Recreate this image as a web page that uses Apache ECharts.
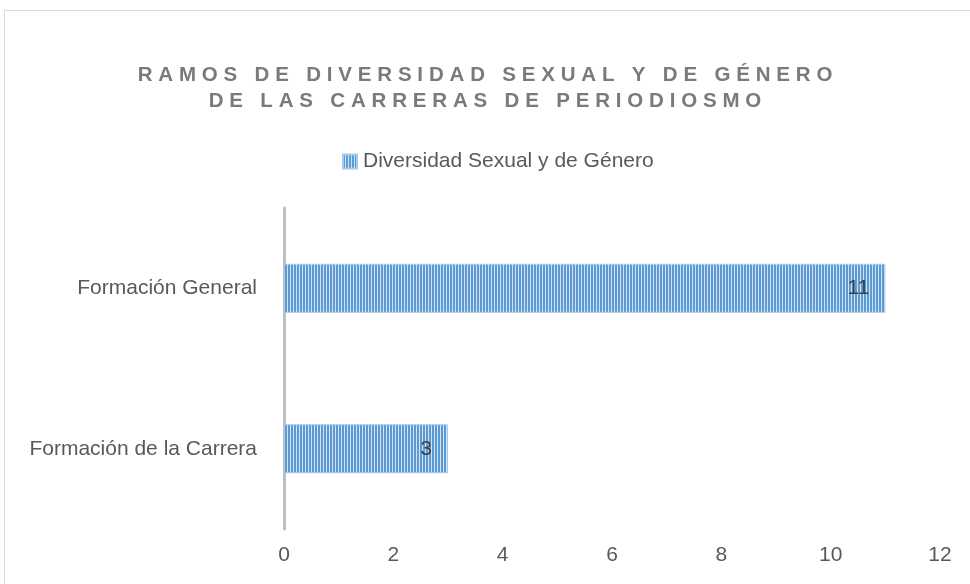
<!DOCTYPE html>
<html>
<head>
<meta charset="utf-8">
<title>Ramos de diversidad sexual y de género</title>
<script src="https://cdn.jsdelivr.net/npm/echarts@6/dist/echarts.min.js"></script>
<style>
  html, body { margin: 0; padding: 0; background: #fff; }
  #chart { width: 970px; height: 584px; }
</style>
</head>
<body>
<div id="chart"></div>
<script>
// datos del gráfico
const titleLines = ['RAMOS DE DIVERSIDAD SEXUAL Y DE GÉNERO', 'DE LAS CARRERAS DE PERIODIOSMO'];
const seriesName = 'Diversidad Sexual y de Género';
const categories = ['Formación General', 'Formación de la Carrera'];
const values = [11, 3];
const xTicks = { min: 0, max: 12, interval: 2 };

// espaciado entre letras del título (como en Excel)
function spaced(str) {
  return str.split('').join('\u2009\u200A');
}

// patrón de rayas verticales para las barras
function stripePattern() {
  const c = document.createElement('canvas');
  c.width = 3;
  c.height = 1;
  const ctx = c.getContext('2d');
  ctx.fillStyle = '#5B9BD5';
  ctx.fillRect(0, 0, 2, 1);
  ctx.fillStyle = '#D3E3F4';
  ctx.fillRect(2, 0, 1, 1);
  return { image: c, repeat: 'repeat' };
}

const chart = echarts.init(document.getElementById('chart'));
const pattern = stripePattern();
const font = '"Liberation Sans", Arial, sans-serif';

const option = {
  backgroundColor: '#fff',
  animation: false,
  graphic: [{
    type: 'rect',
    silent: true,
    shape: { x: 4.5, y: 10.5, width: 1000, height: 1000 },
    style: { fill: 'none', stroke: '#D9D9D9', lineWidth: 1 }
  }],
  title: {
    text: titleLines.map(spaced).join('\n'),
    left: 'center',
    top: 62,
    padding: 0,
    textStyle: {
      fontFamily: font,
      fontSize: 20.5,
      fontWeight: 'bold',
      color: '#7A7A7A',
      lineHeight: 26
    }
  },
  legend: {
    data: [seriesName],
    left: 342,
    top: 151,
    padding: 0,
    itemWidth: 14,
    itemHeight: 14,
    itemGap: 6,
    icon: 'rect',
    textStyle: { fontFamily: font, fontSize: 21, color: '#595959', padding: [0, 0, 0, 1] }
  },
  grid: { left: 284, right: 30, top: 208, bottom: 55 },
  xAxis: {
    type: 'value',
    min: xTicks.min,
    max: xTicks.max,
    interval: xTicks.interval,
    axisLine: { show: false },
    axisTick: { show: false },
    splitLine: { show: false },
    axisLabel: { fontFamily: font, fontSize: 21, color: '#595959', margin: 16 }
  },
  yAxis: {
    type: 'category',
    data: categories,
    inverse: true,
    axisLine: { show: true, lineStyle: { color: '#BFBFBF', width: 3 } },
    axisTick: { show: false },
    axisLabel: { fontFamily: font, fontSize: 21, color: '#595959', margin: 27 }
  },
  series: [{
    name: seriesName,
    type: 'bar',
    data: values,
    barWidth: 49,
    itemStyle: { color: pattern, borderColor: '#A9C9E8', borderWidth: 1 },
    label: {
      show: true,
      position: 'insideRight',
      distance: 16,
      fontFamily: font,
      fontSize: 21,
      color: '#404040'
    }
  }]
};

chart.setOption(option);
</script>
</body>
</html>
